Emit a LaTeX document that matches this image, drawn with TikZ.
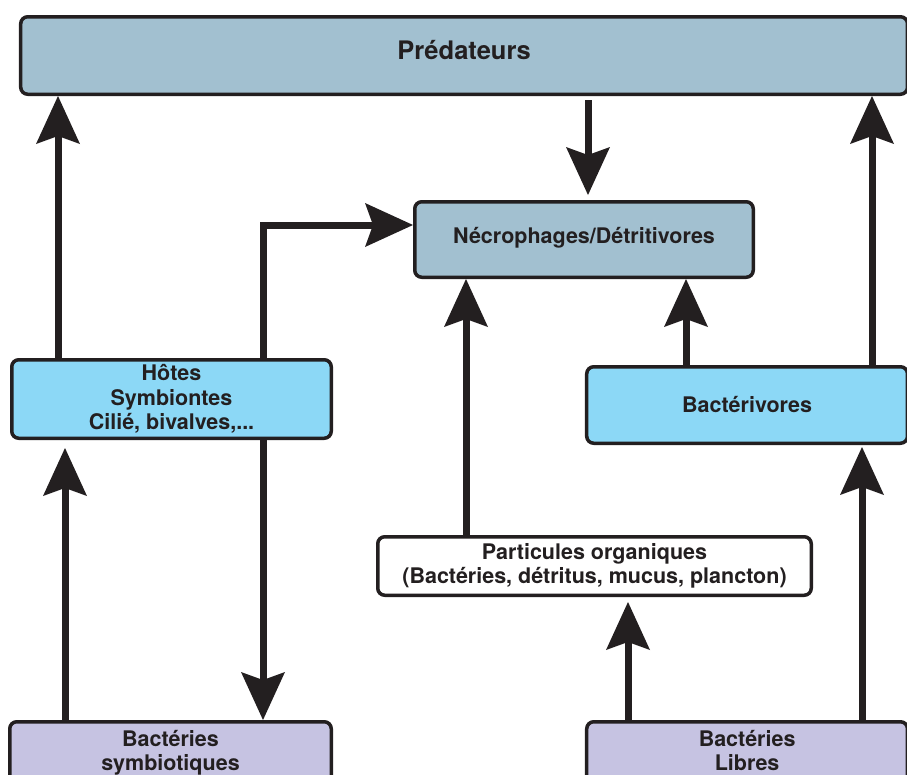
\documentclass[tikz,border=0pt]{standalone}
\usepackage{fontspec}
\setmainfont{TeX Gyre Heros}
\usetikzlibrary{arrows.meta}
\definecolor{ink}{RGB}{35,31,32}
\definecolor{predc}{RGB}{162,192,208}
\definecolor{skyc}{RGB}{140,216,246}
\definecolor{lavc}{RGB}{198,195,226}
\begin{document}
\begin{tikzpicture}[x=1pt,y=-1pt,
  box/.style={draw=ink, line width=3.5pt, rounded corners=7pt, text=ink,
    font=\fontsize{21.5}{24.5}\selectfont\bfseries, align=center, inner sep=0pt},
  arr/.style={draw=ink, line width=7pt,
    -{Stealth[length=48pt,width=44pt,inset=8pt,line width=0pt]}},
]
\useasboundingbox (0,0) rectangle (907,774);

% boxes
\node[box, fill=predc, minimum width=886.75pt, minimum height=77.5pt,
  text height=19pt, text depth=11.5pt,
  font=\fontsize{25.5}{28}\selectfont\bfseries] (pred) at (464.1,55.5) {Prédateurs};
\node[box, fill=predc, minimum width=338.5pt, minimum height=75.5pt,
  text height=16pt, text depth=7.5pt] (necro) at (584,239.5) {Nécrophages/Détritivores};
\node[box, fill=skyc, minimum width=319.5pt, minimum height=78.5pt] (hotes) at (171.5,399)
  {Hôtes\\Symbiontes\\Cilié, bivalves,...};
\node[box, fill=skyc, minimum width=320.75pt, minimum height=76.5pt] (bactv) at (747.1,405)
  {Bactérivores};
\node[box, fill=white, minimum width=433.5pt, minimum height=58.5pt] (part) at (594.5,566)
  {Particules organiques\\(Bactéries, détritus, mucus, plancton)};
\node[box, fill=lavc, minimum width=321.5pt, anchor=north, inner ysep=4pt,
  text height=20.25pt, text depth=60pt] (bsym) at (170.5,720)
  {\begin{tabular}[t]{@{}c@{}}Bactéries\\symbiotiques\end{tabular}};
\node[box, fill=lavc, minimum width=320.75pt, anchor=north, inner ysep=4pt,
  text height=20.25pt, text depth=60pt] (blib) at (747.1,720)
  {\begin{tabular}[t]{@{}c@{}}Bactéries\\Libres\end{tabular}};

% reference columns / rows
\coordinate (x58) at (58,0);
\coordinate (x65) at (65,0);
\coordinate (x263) at (263,0);
\coordinate (x466) at (466,0);
\coordinate (x588) at (588,0);
\coordinate (x628) at (628,0);
\coordinate (x686) at (686,0);
\coordinate (x862) at (862,0);
\coordinate (x872) at (872,0);
\coordinate (y225) at (0,225);

% connectors
\draw[arr] (x58 |- hotes.north) -- (x58 |- pred.south);
\draw[arr, shorten <=4pt, shorten >=5pt] (x588 |- pred.south) -- (x588 |- necro.north);
\draw[arr, line join=miter] (x263 |- hotes.north) -- (x263 |- y225) -- (necro.west |- y225);
\draw[arr] (x466 |- part.north) -- (x466 |- necro.south);
\draw[arr] (x686 |- bactv.north) -- (x686 |- necro.south);
\draw[arr] (x872 |- bactv.north) -- (x872 |- pred.south);
\draw[arr, shorten >=8pt] (x65 |- bsym.north) -- (x65 |- hotes.south);
\draw[arr] (x263 |- hotes.south) -- (x263 |- bsym.north);
\draw[arr, shorten >=5pt] (x628 |- blib.north) -- (x628 |- part.south);
\draw[arr, shorten >=2pt] (x862 |- blib.north) -- (x862 |- bactv.south);
\end{tikzpicture}
\end{document}
